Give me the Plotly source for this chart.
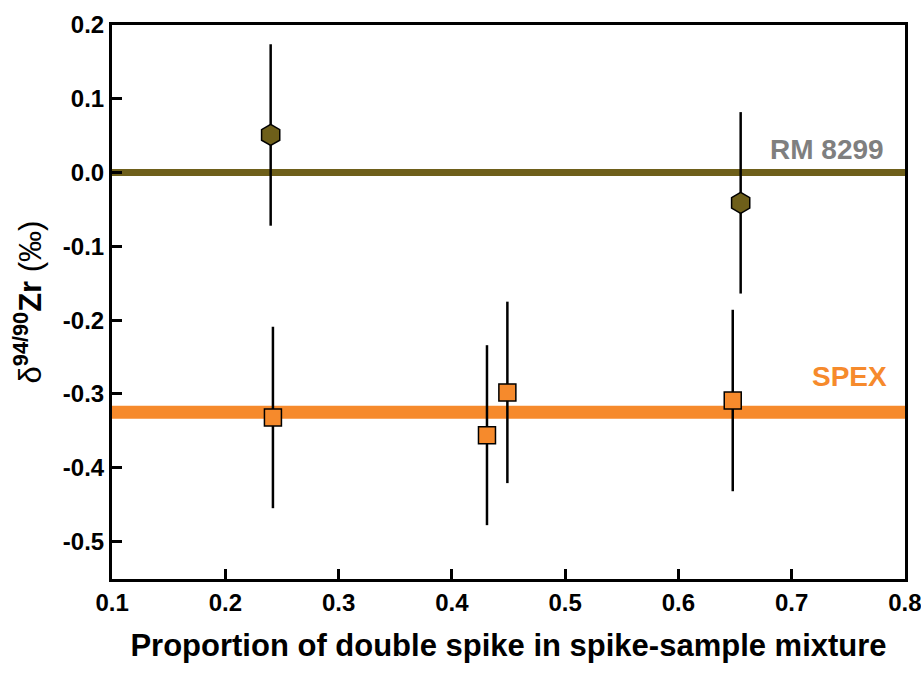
import plotly.graph_objects as go

# Data
rm_x = [0.240, 0.655]
rm_y = [0.051, -0.041]
rm_err = [0.123, 0.123]

spex_x = [0.242, 0.431, 0.449, 0.648]
spex_y = [-0.332, -0.356, -0.298, -0.309]
spex_err = [0.123, 0.122, 0.123, 0.123]

rm_ref = 0.0
spex_ref = -0.325

x_ticks = [0.1, 0.2, 0.3, 0.4, 0.5, 0.6, 0.7, 0.8]
y_ticks = [0.2, 0.1, 0.0, -0.1, -0.2, -0.3, -0.4, -0.5]

OLIVE = "#6e5f1a"
ORANGE = "#f68a2c"
FONT = "Liberation Sans, Arial, sans-serif"

fig = go.Figure()

fig.add_shape(type="line", xref="paper", x0=0, x1=1, yref="y", y0=rm_ref, y1=rm_ref,
              line=dict(color=OLIVE, width=7), layer="below")
fig.add_shape(type="line", xref="paper", x0=0, x1=1, yref="y", y0=spex_ref, y1=spex_ref,
              line=dict(color=ORANGE, width=13), layer="below")

fig.add_trace(go.Scatter(
    x=rm_x, y=rm_y, mode="markers",
    error_y=dict(type="data", array=rm_err, color="black", thickness=2.5, width=0),
    marker=dict(symbol="hexagon", size=21, color=OLIVE, line=dict(color="black", width=1.5)),
    showlegend=False))

fig.add_trace(go.Scatter(
    x=spex_x, y=spex_y, mode="markers",
    error_y=dict(type="data", array=spex_err, color="black", thickness=2.5, width=0),
    marker=dict(symbol="square", size=17, color=ORANGE, line=dict(color="black", width=1.5)),
    showlegend=False))

fig.add_annotation(x=0.783, y=0.031, xref="x", yref="y", text="<b>RM 8299</b>",
                   showarrow=False, xanchor="right", yanchor="middle",
                   font=dict(family=FONT, size=28, color="#7f7f7f"))
fig.add_annotation(x=0.786, y=-0.277, xref="x", yref="y", text="<b>SPEX</b>",
                   showarrow=False, xanchor="right", yanchor="middle",
                   font=dict(family=FONT, size=28, color=ORANGE))

axis_common = dict(showline=True, linecolor="black", linewidth=3, mirror=True,
                   ticks="inside", ticklen=10, tickwidth=3, tickcolor="black",
                   showgrid=False, zeroline=False, ticklabeloverflow="allow",
                   automargin=False,
                   tickfont=dict(family=FONT, size=24, color="black"))

fig.update_xaxes(range=[0.0999, 0.8001], tickvals=x_ticks,
                 ticktext=[f"<b>{v:.1f}</b>" for v in x_ticks],
                 title=dict(text="<b>Proportion of double spike in spike-sample mixture</b>",
                            font=dict(family=FONT, size=31, color="black"), standoff=20),
                 **axis_common)
fig.update_yaxes(range=[-0.551, 0.2001], tickvals=y_ticks,
                 ticktext=[f"<b>{v:.1f}</b>" for v in y_ticks],
                 title=dict(text="δ<b><sup>94/90</sup>Zr</b> (‰)",
                            font=dict(family=FONT, size=31, color="black"), standoff=12),
                 **axis_common)

fig.update_layout(width=921, height=676,
                  margin=dict(l=112, r=16, t=25, b=97),
                  plot_bgcolor="white", paper_bgcolor="white")

fig.write_html("out.html")
